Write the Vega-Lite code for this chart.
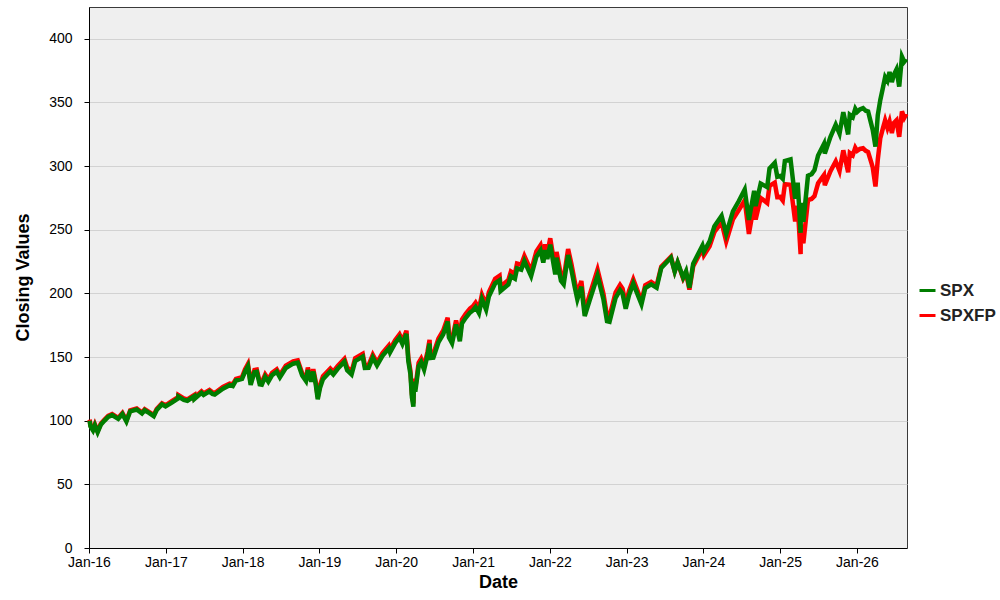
{
  "$schema": "https://vega.github.io/schema/vega-lite/v6.json",
  "width": 818,
  "height": 541,
  "autosize": {"type": "none"},
  "padding": {"left": 89, "top": 7, "right": 93, "bottom": 52},
  "background": "white",
  "config": {
    "font": "Liberation Sans",
    "view": {"fill": "#efefef", "stroke": "#3a3a3a", "strokeWidth": 1},
    "axis": {
      "labelFont": "Liberation Sans", "labelFontSize": 14, "labelColor": "#000",
      "titleFont": "Liberation Sans", "titleFontSize": 18, "titleFontWeight": "bold", "titleColor": "#000",
      "domainColor": "#000", "tickColor": "#000", "tickSize": 5, "gridColor": "#d2d2d2"
    }
  },
  "datasets": {
    "d": [
      {"date": "2016-01-04", "SPX": 100.0, "SPXFP": 100.8},
      {"date": "2016-01-08", "SPX": 95.5, "SPXFP": 96.3},
      {"date": "2016-01-20", "SPX": 92.4, "SPXFP": 93.2},
      {"date": "2016-01-29", "SPX": 96.4, "SPXFP": 97.2},
      {"date": "2016-02-11", "SPX": 90.9, "SPXFP": 91.7},
      {"date": "2016-02-26", "SPX": 96.8, "SPXFP": 97.6},
      {"date": "2016-03-15", "SPX": 100.1, "SPXFP": 100.9},
      {"date": "2016-04-01", "SPX": 103.0, "SPXFP": 103.8},
      {"date": "2016-04-20", "SPX": 104.4, "SPXFP": 105.2},
      {"date": "2016-05-19", "SPX": 101.4, "SPXFP": 102.2},
      {"date": "2016-06-08", "SPX": 105.3, "SPXFP": 106.1},
      {"date": "2016-06-27", "SPX": 99.4, "SPXFP": 100.2},
      {"date": "2016-07-15", "SPX": 107.4, "SPXFP": 108.2},
      {"date": "2016-08-15", "SPX": 108.8, "SPXFP": 109.6},
      {"date": "2016-09-09", "SPX": 105.7, "SPXFP": 106.5},
      {"date": "2016-09-22", "SPX": 108.2, "SPXFP": 109.0},
      {"date": "2016-10-14", "SPX": 106.0, "SPXFP": 106.8},
      {"date": "2016-11-04", "SPX": 103.6, "SPXFP": 104.4},
      {"date": "2016-11-18", "SPX": 108.4, "SPXFP": 109.2},
      {"date": "2016-12-13", "SPX": 112.8, "SPXFP": 113.7},
      {"date": "2016-12-30", "SPX": 111.2, "SPXFP": 112.1},
      {"date": "2017-01-27", "SPX": 114.0, "SPXFP": 115.1},
      {"date": "2017-02-28", "SPX": 117.5, "SPXFP": 118.6},
      {"date": "2017-03-01", "SPX": 119.0, "SPXFP": 120.1},
      {"date": "2017-03-27", "SPX": 116.4, "SPXFP": 117.5},
      {"date": "2017-04-13", "SPX": 115.7, "SPXFP": 116.8},
      {"date": "2017-05-16", "SPX": 119.2, "SPXFP": 120.3},
      {"date": "2017-05-17", "SPX": 117.1, "SPXFP": 118.2},
      {"date": "2017-06-19", "SPX": 121.9, "SPXFP": 123.0},
      {"date": "2017-06-29", "SPX": 120.3, "SPXFP": 121.4},
      {"date": "2017-07-27", "SPX": 123.0, "SPXFP": 124.2},
      {"date": "2017-08-10", "SPX": 121.1, "SPXFP": 122.3},
      {"date": "2017-08-21", "SPX": 120.6, "SPXFP": 121.8},
      {"date": "2017-09-29", "SPX": 125.2, "SPXFP": 126.5},
      {"date": "2017-10-31", "SPX": 127.9, "SPXFP": 129.2},
      {"date": "2017-11-15", "SPX": 127.2, "SPXFP": 128.5},
      {"date": "2017-11-30", "SPX": 131.6, "SPXFP": 132.9},
      {"date": "2017-12-29", "SPX": 132.9, "SPXFP": 134.2},
      {"date": "2018-01-12", "SPX": 138.4, "SPXFP": 140.2},
      {"date": "2018-01-26", "SPX": 142.7, "SPXFP": 144.5},
      {"date": "2018-02-08", "SPX": 128.2, "SPXFP": 130.0},
      {"date": "2018-02-26", "SPX": 138.1, "SPXFP": 139.9},
      {"date": "2018-03-09", "SPX": 138.4, "SPXFP": 140.2},
      {"date": "2018-03-23", "SPX": 128.6, "SPXFP": 130.4},
      {"date": "2018-04-02", "SPX": 128.3, "SPXFP": 130.1},
      {"date": "2018-04-18", "SPX": 134.5, "SPXFP": 136.3},
      {"date": "2018-05-03", "SPX": 130.7, "SPXFP": 132.5},
      {"date": "2018-05-21", "SPX": 135.8, "SPXFP": 137.6},
      {"date": "2018-06-12", "SPX": 138.5, "SPXFP": 140.3},
      {"date": "2018-06-27", "SPX": 134.1, "SPXFP": 135.9},
      {"date": "2018-07-25", "SPX": 141.4, "SPXFP": 143.2},
      {"date": "2018-08-29", "SPX": 144.8, "SPXFP": 146.6},
      {"date": "2018-09-20", "SPX": 145.6, "SPXFP": 147.4},
      {"date": "2018-10-11", "SPX": 135.5, "SPXFP": 137.3},
      {"date": "2018-10-29", "SPX": 131.2, "SPXFP": 133.0},
      {"date": "2018-11-07", "SPX": 139.8, "SPXFP": 141.6},
      {"date": "2018-11-23", "SPX": 130.8, "SPXFP": 132.6},
      {"date": "2018-12-03", "SPX": 138.6, "SPXFP": 140.4},
      {"date": "2018-12-14", "SPX": 129.2, "SPXFP": 131.0},
      {"date": "2018-12-24", "SPX": 116.8, "SPXFP": 118.6},
      {"date": "2019-01-04", "SPX": 125.8, "SPXFP": 127.9},
      {"date": "2019-01-18", "SPX": 132.7, "SPXFP": 134.9},
      {"date": "2019-02-22", "SPX": 138.8, "SPXFP": 141.0},
      {"date": "2019-03-08", "SPX": 136.3, "SPXFP": 138.5},
      {"date": "2019-03-29", "SPX": 140.8, "SPXFP": 143.0},
      {"date": "2019-04-30", "SPX": 146.4, "SPXFP": 148.6},
      {"date": "2019-05-13", "SPX": 139.7, "SPXFP": 141.9},
      {"date": "2019-06-03", "SPX": 136.3, "SPXFP": 138.5},
      {"date": "2019-06-20", "SPX": 146.8, "SPXFP": 149.0},
      {"date": "2019-07-26", "SPX": 150.3, "SPXFP": 152.5},
      {"date": "2019-08-05", "SPX": 141.4, "SPXFP": 143.6},
      {"date": "2019-08-23", "SPX": 141.5, "SPXFP": 143.7},
      {"date": "2019-09-12", "SPX": 149.6, "SPXFP": 151.8},
      {"date": "2019-10-02", "SPX": 143.5, "SPXFP": 145.7},
      {"date": "2019-10-28", "SPX": 151.0, "SPXFP": 153.2},
      {"date": "2019-11-27", "SPX": 156.7, "SPXFP": 159.0},
      {"date": "2019-12-03", "SPX": 153.7, "SPXFP": 156.0},
      {"date": "2019-12-27", "SPX": 161.0, "SPXFP": 163.3},
      {"date": "2020-01-17", "SPX": 165.4, "SPXFP": 167.9},
      {"date": "2020-01-31", "SPX": 160.3, "SPXFP": 162.8},
      {"date": "2020-02-19", "SPX": 168.2, "SPXFP": 170.7},
      {"date": "2020-02-28", "SPX": 146.8, "SPXFP": 149.3},
      {"date": "2020-03-09", "SPX": 136.5, "SPXFP": 139.0},
      {"date": "2020-03-16", "SPX": 118.5, "SPXFP": 121.0},
      {"date": "2020-03-23", "SPX": 111.1, "SPXFP": 113.6},
      {"date": "2020-03-26", "SPX": 130.7, "SPXFP": 133.2},
      {"date": "2020-04-01", "SPX": 122.8, "SPXFP": 125.3},
      {"date": "2020-04-17", "SPX": 142.8, "SPXFP": 145.5},
      {"date": "2020-04-29", "SPX": 146.1, "SPXFP": 148.8},
      {"date": "2020-05-13", "SPX": 140.1, "SPXFP": 142.8},
      {"date": "2020-05-29", "SPX": 151.2, "SPXFP": 154.0},
      {"date": "2020-06-08", "SPX": 160.6, "SPXFP": 163.5},
      {"date": "2020-06-11", "SPX": 149.2, "SPXFP": 152.1},
      {"date": "2020-06-26", "SPX": 149.5, "SPXFP": 152.4},
      {"date": "2020-07-20", "SPX": 161.5, "SPXFP": 164.5},
      {"date": "2020-08-12", "SPX": 167.9, "SPXFP": 170.9},
      {"date": "2020-09-02", "SPX": 177.9, "SPXFP": 180.9},
      {"date": "2020-09-08", "SPX": 165.5, "SPXFP": 168.5},
      {"date": "2020-09-23", "SPX": 160.8, "SPXFP": 163.8},
      {"date": "2020-10-12", "SPX": 175.6, "SPXFP": 178.7},
      {"date": "2020-10-30", "SPX": 162.5, "SPXFP": 165.6},
      {"date": "2020-11-09", "SPX": 176.4, "SPXFP": 179.5},
      {"date": "2020-11-27", "SPX": 180.8, "SPXFP": 183.9},
      {"date": "2020-12-17", "SPX": 184.9, "SPXFP": 188.1},
      {"date": "2020-12-31", "SPX": 186.6, "SPXFP": 189.8},
      {"date": "2021-01-13", "SPX": 189.3, "SPXFP": 192.7},
      {"date": "2021-01-29", "SPX": 184.5, "SPXFP": 187.9},
      {"date": "2021-02-12", "SPX": 195.5, "SPXFP": 199.0},
      {"date": "2021-03-04", "SPX": 187.2, "SPXFP": 190.7},
      {"date": "2021-03-17", "SPX": 197.5, "SPXFP": 201.0},
      {"date": "2021-04-16", "SPX": 207.9, "SPXFP": 211.5},
      {"date": "2021-05-07", "SPX": 210.3, "SPXFP": 213.9},
      {"date": "2021-05-12", "SPX": 201.9, "SPXFP": 205.5},
      {"date": "2021-06-18", "SPX": 207.0, "SPXFP": 210.6},
      {"date": "2021-06-30", "SPX": 213.5, "SPXFP": 217.3},
      {"date": "2021-07-19", "SPX": 211.6, "SPXFP": 215.4},
      {"date": "2021-07-29", "SPX": 219.6, "SPXFP": 223.5},
      {"date": "2021-08-18", "SPX": 218.6, "SPXFP": 222.5},
      {"date": "2021-09-02", "SPX": 225.4, "SPXFP": 229.4},
      {"date": "2021-10-04", "SPX": 213.6, "SPXFP": 217.7},
      {"date": "2021-10-29", "SPX": 228.8, "SPXFP": 233.0},
      {"date": "2021-11-18", "SPX": 233.7, "SPXFP": 238.0},
      {"date": "2021-12-01", "SPX": 224.2, "SPXFP": 228.5},
      {"date": "2021-12-10", "SPX": 234.1, "SPXFP": 238.5},
      {"date": "2021-12-20", "SPX": 227.0, "SPXFP": 231.4},
      {"date": "2022-01-03", "SPX": 238.3, "SPXFP": 243.3},
      {"date": "2022-01-27", "SPX": 214.9, "SPXFP": 219.4},
      {"date": "2022-02-02", "SPX": 228.0, "SPXFP": 232.6},
      {"date": "2022-02-23", "SPX": 210.0, "SPXFP": 214.4},
      {"date": "2022-03-08", "SPX": 207.2, "SPXFP": 211.6},
      {"date": "2022-03-29", "SPX": 230.1, "SPXFP": 234.9},
      {"date": "2022-04-14", "SPX": 218.3, "SPXFP": 222.9},
      {"date": "2022-04-29", "SPX": 205.3, "SPXFP": 209.8},
      {"date": "2022-05-12", "SPX": 195.3, "SPXFP": 199.6},
      {"date": "2022-05-31", "SPX": 205.3, "SPXFP": 209.8},
      {"date": "2022-06-16", "SPX": 182.2, "SPXFP": 186.3},
      {"date": "2022-07-08", "SPX": 193.7, "SPXFP": 198.0},
      {"date": "2022-08-16", "SPX": 213.9, "SPXFP": 218.6},
      {"date": "2022-09-13", "SPX": 195.4, "SPXFP": 199.8},
      {"date": "2022-09-30", "SPX": 178.2, "SPXFP": 182.3},
      {"date": "2022-10-12", "SPX": 177.7, "SPXFP": 181.8},
      {"date": "2022-11-10", "SPX": 196.6, "SPXFP": 200.9},
      {"date": "2022-12-01", "SPX": 202.5, "SPXFP": 206.7},
      {"date": "2022-12-13", "SPX": 199.7, "SPXFP": 203.8},
      {"date": "2022-12-28", "SPX": 188.0, "SPXFP": 191.8},
      {"date": "2023-01-13", "SPX": 198.7, "SPXFP": 202.2},
      {"date": "2023-02-02", "SPX": 207.7, "SPXFP": 211.0},
      {"date": "2023-03-13", "SPX": 191.5, "SPXFP": 194.0},
      {"date": "2023-03-31", "SPX": 204.2, "SPXFP": 206.5},
      {"date": "2023-04-28", "SPX": 207.1, "SPXFP": 209.1},
      {"date": "2023-05-24", "SPX": 204.5, "SPXFP": 206.2},
      {"date": "2023-06-15", "SPX": 219.9, "SPXFP": 221.1},
      {"date": "2023-07-31", "SPX": 228.0, "SPXFP": 228.8},
      {"date": "2023-08-18", "SPX": 217.1, "SPXFP": 217.3},
      {"date": "2023-09-01", "SPX": 224.4, "SPXFP": 224.2},
      {"date": "2023-09-27", "SPX": 212.4, "SPXFP": 211.7},
      {"date": "2023-10-11", "SPX": 217.5, "SPXFP": 216.3},
      {"date": "2023-10-27", "SPX": 204.5, "SPXFP": 203.0},
      {"date": "2023-11-14", "SPX": 223.4, "SPXFP": 221.4},
      {"date": "2023-12-28", "SPX": 237.6, "SPXFP": 235.1},
      {"date": "2024-01-04", "SPX": 232.9, "SPXFP": 230.0},
      {"date": "2024-01-31", "SPX": 240.8, "SPXFP": 237.0},
      {"date": "2024-02-23", "SPX": 252.8, "SPXFP": 248.3},
      {"date": "2024-03-28", "SPX": 261.0, "SPXFP": 255.8},
      {"date": "2024-04-19", "SPX": 246.8, "SPXFP": 240.8},
      {"date": "2024-05-21", "SPX": 264.4, "SPXFP": 258.2},
      {"date": "2024-06-18", "SPX": 272.6, "SPXFP": 265.5},
      {"date": "2024-07-16", "SPX": 281.6, "SPXFP": 273.2},
      {"date": "2024-08-05", "SPX": 257.7, "SPXFP": 246.7},
      {"date": "2024-08-30", "SPX": 280.6, "SPXFP": 270.4},
      {"date": "2024-09-06", "SPX": 268.7, "SPXFP": 258.0},
      {"date": "2024-09-30", "SPX": 286.3, "SPXFP": 275.0},
      {"date": "2024-10-31", "SPX": 283.5, "SPXFP": 271.0},
      {"date": "2024-11-11", "SPX": 298.2, "SPXFP": 284.5},
      {"date": "2024-12-06", "SPX": 302.6, "SPXFP": 287.0},
      {"date": "2024-12-18", "SPX": 291.7, "SPXFP": 275.7},
      {"date": "2024-12-31", "SPX": 292.2, "SPXFP": 275.8},
      {"date": "2025-01-13", "SPX": 290.0, "SPXFP": 273.0},
      {"date": "2025-01-23", "SPX": 304.0, "SPXFP": 285.8},
      {"date": "2025-02-19", "SPX": 305.3, "SPXFP": 285.3},
      {"date": "2025-03-13", "SPX": 274.4, "SPXFP": 256.5},
      {"date": "2025-03-25", "SPX": 287.0, "SPXFP": 268.8},
      {"date": "2025-04-08", "SPX": 247.6, "SPXFP": 230.8},
      {"date": "2025-04-09", "SPX": 271.1, "SPXFP": 253.8},
      {"date": "2025-04-21", "SPX": 256.3, "SPXFP": 239.3},
      {"date": "2025-05-13", "SPX": 292.4, "SPXFP": 273.4},
      {"date": "2025-05-30", "SPX": 293.7, "SPXFP": 274.2},
      {"date": "2025-06-13", "SPX": 297.0, "SPXFP": 276.5},
      {"date": "2025-06-30", "SPX": 308.3, "SPXFP": 286.5},
      {"date": "2025-07-28", "SPX": 317.4, "SPXFP": 293.0},
      {"date": "2025-08-01", "SPX": 309.9, "SPXFP": 285.0},
      {"date": "2025-08-28", "SPX": 323.0, "SPXFP": 296.0},
      {"date": "2025-09-22", "SPX": 332.6, "SPXFP": 303.8},
      {"date": "2025-10-10", "SPX": 325.6, "SPXFP": 296.2},
      {"date": "2025-10-28", "SPX": 342.4, "SPXFP": 312.4},
      {"date": "2025-11-20", "SPX": 324.9, "SPXFP": 295.2},
      {"date": "2025-11-28", "SPX": 340.3, "SPXFP": 310.3},
      {"date": "2025-12-12", "SPX": 338.5, "SPXFP": 308.5},
      {"date": "2025-12-24", "SPX": 345.0, "SPXFP": 314.5},
      {"date": "2026-01-02", "SPX": 342.5, "SPXFP": 312.0},
      {"date": "2026-01-15", "SPX": 344.5, "SPXFP": 313.5},
      {"date": "2026-01-30", "SPX": 345.6, "SPXFP": 314.0},
      {"date": "2026-02-12", "SPX": 343.5, "SPXFP": 312.0},
      {"date": "2026-02-23", "SPX": 342.9, "SPXFP": 311.0},
      {"date": "2026-03-10", "SPX": 333.0, "SPXFP": 303.0},
      {"date": "2026-03-17", "SPX": 328.5, "SPXFP": 299.0},
      {"date": "2026-03-30", "SPX": 315.4, "SPXFP": 284.0},
      {"date": "2026-04-10", "SPX": 340.0, "SPXFP": 305.0},
      {"date": "2026-04-22", "SPX": 352.0, "SPXFP": 322.0},
      {"date": "2026-05-05", "SPX": 362.0, "SPXFP": 330.0},
      {"date": "2026-05-15", "SPX": 370.0, "SPXFP": 336.0},
      {"date": "2026-05-26", "SPX": 367.0, "SPXFP": 330.0},
      {"date": "2026-06-05", "SPX": 374.0, "SPXFP": 335.0},
      {"date": "2026-06-16", "SPX": 366.0, "SPXFP": 326.0},
      {"date": "2026-06-26", "SPX": 372.0, "SPXFP": 334.0},
      {"date": "2026-07-08", "SPX": 376.0, "SPXFP": 336.0},
      {"date": "2026-07-21", "SPX": 362.5, "SPXFP": 323.0},
      {"date": "2026-08-03", "SPX": 386.0, "SPXFP": 343.0},
      {"date": "2026-08-14", "SPX": 382.0, "SPXFP": 338.0},
      {"date": "2026-08-24", "SPX": 384.0, "SPXFP": 341.0}
    ]
  },
  "data": {"name": "d"},
  "transform": [{"fold": ["SPX", "SPXFP"], "as": ["series", "value"]}],
  "encoding": {
    "x": {
      "field": "date", "type": "temporal",
      "scale": {"domain": [{"year": 2016, "month": 1, "date": 1}, {"year": 2026, "month": 8, "date": 27}]},
      "axis": {
        "title": "Date", "format": "%b-%y", "tickCount": {"interval": "year", "step": 1},
        "grid": false, "labelPadding": 2, "labelFlush": false, "labelOverlap": false,
        "titleY": 34, "titleBaseline": "middle"
      }
    },
    "y": {
      "field": "value", "type": "quantitative",
      "scale": {"domain": [0, 425], "nice": false},
      "axis": {
        "title": "Closing Values", "values": [0, 50, 100, 150, 200, 250, 300, 350, 400],
        "labelPadding": 12, "labelFlush": false, "grid": true,
        "titleX": -66, "titleY": 270, "titleAngle": -90, "titleBaseline": "middle", "titleAlign": "center"
      }
    },
    "color": {
      "field": "series", "type": "nominal",
      "scale": {"domain": ["SPX", "SPXFP"], "range": ["#007d00", "#ff0000"]},
      "legend": {
        "title": null, "orient": "none", "legendX": 829, "legendY": 274,
        "symbolType": "stroke", "symbolSize": 256, "symbolStrokeWidth": 3,
        "labelFont": "Liberation Sans", "labelFontSize": 17, "labelFontWeight": "bold", "labelColor": "#222",
        "labelOffset": 3, "rowPadding": 7
      }
    }
  },
  "layer": [
    {"transform": [{"filter": "datum.series === 'SPXFP'"}], "mark": {"type": "line", "strokeWidth": 4.5}},
    {"transform": [{"filter": "datum.series === 'SPX'"}], "mark": {"type": "line", "strokeWidth": 4.5}}
  ]
}
